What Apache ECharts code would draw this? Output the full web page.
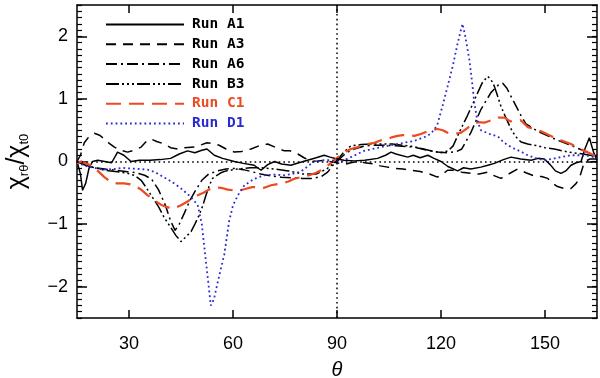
<!DOCTYPE html>
<html>
<head>
<meta charset="UTF-8">
<title>chi ratio vs theta</title>
<script src="https://cdn.jsdelivr.net/npm/echarts@6/dist/echarts.min.js"></script>
<style>
  html, body { margin: 0; background: #fff; }
  #chart { width: 600px; height: 378px; }
</style>
</head>
<body>
<div id="chart"></div>
<script>
// values (theta in degrees, chi_rtheta / chi_t0)
const thetaA1 = [15, 16, 16.6, 17.5, 18.5, 19.5, 21, 23, 25, 26.7, 28.5, 30.6, 33, 36, 39, 42, 44.5, 46.9, 49, 51, 52.5, 54.6, 57, 60.4, 63, 66.1, 68.1, 70, 72, 74, 76.7, 79, 81.5, 84, 86.3, 88, 90, 92, 95, 98, 101.7, 104, 105.6, 107, 110.4, 112, 114, 116.2, 118, 120, 122, 124.8, 126.5, 128.6, 131.5, 133.5, 135.4, 138, 140.2, 143, 146, 148, 149.8, 151.5, 153, 154.6, 156, 157.5, 159, 160.4, 161.5, 162.8, 164, 165];
const chiA1   = [0, -0.2, -0.46, -0.35, -0.1, 0, 0.02, 0, -0.02, 0.15, 0.1, 0, 0.02, 0.02, 0.03, 0.05, 0.12, 0.17, 0.14, 0.18, 0.2, 0.1, 0.05, 0, -0.03, -0.06, -0.14, -0.05, 0, -0.04, -0.06, -0.02, 0.02, 0.06, 0.1, 0.07, 0.04, 0.02, 0.01, 0.02, 0.05, 0.1, 0.15, 0.12, 0.07, 0.1, 0.06, 0.1, 0.05, 0, -0.08, -0.15, -0.1, -0.12, -0.09, -0.06, -0.03, 0.03, 0.07, 0.04, 0.02, 0.05, 0.04, -0.05, -0.15, -0.19, -0.15, -0.06, -0.02, 0, 0.2, 0.38, 0.15, 0.02];

const thetaA3 = [15, 16, 17.1, 18.5, 20, 21.5, 22.9, 24.5, 25.8, 27.5, 29.6, 31.5, 33.5, 35, 36.3, 38, 40.2, 42, 44, 46, 48.8, 51, 52.5, 54.6, 56, 58, 60.4, 62.5, 65.2, 67.5, 70, 72.5, 74.8, 76.5, 78.7, 80.5, 82.5, 84.5, 86.3, 88, 90, 92, 94, 96, 98, 100.8, 102.5, 104.6, 107, 109, 111.4, 114, 116.2, 119, 120.5, 121.9, 123.5, 126, 128.6, 131, 133.5, 135, 137.3, 139.5, 142.1, 144.5, 146.9, 149, 150.8, 152.2, 153.6, 155.5, 157.5, 159, 159.9, 161.4, 163, 165];
const chiA3   = [0, 0.1, 0.3, 0.4, 0.45, 0.42, 0.36, 0.28, 0.23, 0.18, 0.15, 0.18, 0.23, 0.32, 0.36, 0.32, 0.28, 0.22, 0.2, 0.22, 0.23, 0.27, 0.3, 0.28, 0.26, 0.2, 0.15, 0.16, 0.2, 0.25, 0.28, 0.22, 0.17, 0.17, 0.12, 0.06, 0, 0.01, 0.02, 0, -0.02, -0.05, -0.02, 0, -0.02, -0.04, -0.07, -0.09, -0.11, -0.12, -0.14, -0.16, -0.19, -0.25, -0.2, -0.14, -0.14, -0.17, -0.19, -0.2, -0.17, -0.22, -0.27, -0.2, -0.12, -0.18, -0.23, -0.24, -0.27, -0.35, -0.4, -0.43, -0.43, -0.35, -0.27, 0, 0.04, 0.04];

const thetaA6 = [15, 17, 20, 23, 26, 29, 32, 34.5, 36.5, 38.5, 40.5, 42, 43.3, 44.5, 46, 47.5, 49, 51, 53, 55.6, 58, 60.4, 63, 65.2, 68, 71, 74, 77, 80, 83, 85.5, 87.3, 89, 90, 91.5, 93, 95, 98, 101, 104, 107, 110, 113, 116, 119, 122, 124.5, 126, 128.6, 131.5, 134.4, 136.5, 137.8, 139, 140.2, 141.7, 143.1, 144.5, 146, 148, 150.8, 153.6, 156.5, 159, 161.4, 163, 165];
const chiA6   = [0, -0.05, -0.1, -0.12, -0.14, -0.16, -0.18, -0.22, -0.28, -0.45, -0.7, -0.95, -1.1, -1.0, -0.82, -0.63, -0.48, -0.3, -0.2, -0.15, -0.12, -0.11, -0.13, -0.16, -0.2, -0.23, -0.25, -0.26, -0.27, -0.27, -0.24, -0.17, -0.05, 0, 0.08, 0.15, 0.2, 0.25, 0.26, 0.26, 0.25, 0.24, 0.22, 0.18, 0.15, 0.14, 0.16, 0.2, 0.46, 0.83, 1.1, 1.22, 1.25, 1.17, 1.04, 0.88, 0.73, 0.6, 0.55, 0.48, 0.41, 0.34, 0.28, 0.22, 0.17, 0.12, 0.08];

const thetaB3 = [15, 17, 20, 23, 26, 29, 31.5, 33.5, 35, 36.5, 38.5, 40.2, 42, 43.5, 45, 46.5, 47.9, 49, 50.3, 51.3, 52.2, 53.2, 54.1, 56.5, 58, 61.4, 65, 68, 72, 76, 80, 84, 87, 89, 90, 92, 94, 97, 100, 103, 106, 109, 112, 115, 118, 120, 122, 123.5, 124.8, 126, 127.6, 129, 130.6, 132, 133.5, 134.5, 135.4, 136.3, 137.3, 138.7, 140.2, 141.5, 143.1, 145, 147.9, 150, 152.7, 155, 158, 161, 163, 165];
const chiB3   = [0, -0.05, -0.1, -0.14, -0.16, -0.18, -0.22, -0.3, -0.42, -0.55, -0.72, -0.9, -1.05, -1.18, -1.28, -1.2, -1.12, -1.0, -0.85, -0.7, -0.54, -0.38, -0.27, -0.18, -0.15, -0.12, -0.1, -0.1, -0.12, -0.15, -0.2, -0.2, -0.12, -0.03, 0.02, 0.15, 0.25, 0.27, 0.28, 0.28, 0.28, 0.26, 0.24, 0.2, 0.16, 0.14, 0.17, 0.25, 0.41, 0.55, 0.73, 0.9, 1.1, 1.27, 1.36, 1.3, 1.2, 1.05, 0.88, 0.7, 0.52, 0.4, 0.31, 0.28, 0.25, 0.22, 0.2, 0.17, 0.14, 0.12, 0.1, 0.08];

const thetaC1 = [15, 16.2, 17.5, 19, 21, 22.9, 24.8, 26.5, 28.6, 30, 31.5, 33.5, 35.4, 37.3, 39.2, 41, 43, 45, 46.9, 48.5, 49.8, 51.5, 53, 54.6, 56.5, 58.5, 61.4, 63.5, 65.5, 67.1, 69, 71, 73.8, 76, 77.5, 79.6, 82, 84, 85.4, 87, 89.2, 90.5, 92.1, 94, 96, 98, 100.8, 102.7, 104.6, 106, 107.5, 109, 111, 112.3, 114.2, 116, 117.5, 119, 120.5, 121.9, 123.5, 125.8, 128, 130.6, 132.5, 134.5, 136.5, 138.3, 140, 141.5, 143, 145, 147, 149, 150.8, 152.7, 155, 157.5, 160, 162.3, 164, 165];
const chiC1   = [-0.03, 0, -0.03, -0.06, -0.15, -0.25, -0.33, -0.35, -0.35, -0.36, -0.38, -0.45, -0.54, -0.62, -0.69, -0.73, -0.75, -0.7, -0.64, -0.57, -0.54, -0.5, -0.45, -0.41, -0.42, -0.45, -0.47, -0.44, -0.41, -0.41, -0.42, -0.38, -0.35, -0.32, -0.28, -0.25, -0.22, -0.18, -0.14, -0.08, 0.02, 0.08, 0.15, 0.2, 0.23, 0.27, 0.3, 0.34, 0.36, 0.39, 0.41, 0.42, 0.42, 0.41, 0.44, 0.48, 0.5, 0.52, 0.5, 0.46, 0.44, 0.46, 0.55, 0.63, 0.62, 0.66, 0.7, 0.7, 0.64, 0.65, 0.66, 0.55, 0.52, 0.48, 0.43, 0.38, 0.33, 0.28, 0.2, 0.15, 0.1, 0.08];

const thetaD1 = [15, 16.5, 18, 20, 22.4, 25.7, 28, 30, 33, 35.4, 37.5, 40, 42.5, 45, 47.5, 49.8, 51, 52, 53, 53.6, 54.5, 55.5, 57.5, 58.9, 60, 61.4, 63.3, 66, 69, 72, 74.7, 77, 79.6, 81.5, 83.4, 86.3, 88.5, 90, 91.1, 94, 97.8, 102.7, 107.5, 112.3, 116.2, 118, 119, 120.5, 121.9, 123.5, 124.8, 126.2, 127, 128.2, 129, 129.6, 130.5, 131.5, 134, 136.4, 138.2, 140.5, 143, 145, 147.5, 149.8, 152, 154.6, 157.5, 160.4, 162.5, 164, 165];
const chiD1   = [0, -0.05, -0.08, -0.1, -0.13, -0.12, -0.1, -0.11, -0.12, -0.13, -0.17, -0.25, -0.33, -0.43, -0.55, -0.69, -1.0, -1.5, -2.0, -2.3, -2.2, -1.95, -1.48, -0.95, -0.7, -0.54, -0.38, -0.28, -0.22, -0.21, -0.22, -0.2, -0.16, -0.08, 0, 0.02, 0.02, 0, 0, 0.07, 0.17, 0.23, 0.28, 0.33, 0.41, 0.5, 0.6, 0.9, 1.2, 1.55, 1.89, 2.2, 2.0, 1.62, 1.25, 0.94, 0.65, 0.5, 0.44, 0.4, 0.3, 0.22, 0.16, 0.1, 0.05, 0.02, 0.04, 0.07, 0.1, 0.1, 0.09, 0.07, 0.05];

const runNames = ['Run A1', 'Run A3', 'Run A6', 'Run B3', 'Run C1', 'Run D1'];
const xTicks = [30, 60, 90, 120, 150];
const yTicks = [-2, -1, 0, 1, 2];

const RED = '#ec4a22';
const BLUE = '#2a2ad2';

const chart = echarts.init(document.getElementById('chart'));

function pairs(t, v) {
    return t.map((x, i) => [x, v[i]]);
}

function run(name, t, v, color, dash, width) {
    return {
        name: name,
        type: 'line',
        data: pairs(t, v),
        symbol: 'none',
        xAxisIndex: 0,
        yAxisIndex: 0,
        lineStyle: { color: color, type: dash, width: width },
        itemStyle: { color: color }
    };
}

const axisLine = { show: true, onZero: false, lineStyle: { color: '#000', width: 1.5 } };
const font = '"Liberation Sans", Helvetica, Arial, sans-serif';

const series = [
    run('Run A1', thetaA1, chiA1, '#000', 'solid', 1.5),
    run('Run A3', thetaA3, chiA3, '#000', [10, 7], 1.5),
    run('Run A6', thetaA6, chiA6, '#000', [11, 4, 2, 4], 1.5),
    run('Run B3', thetaB3, chiB3, '#000', [13, 3, 2, 3, 2, 3, 2, 3], 1.5),
    run('Run C1', thetaC1, chiC1, RED, [15, 8], 2.2),
    run('Run D1', thetaD1, chiD1, BLUE, [1.8, 3], 1.8)
];
// dotted zero line and theta = 90 line
series[0].markLine = {
    symbol: 'none',
    silent: true,
    label: { show: false },
    lineStyle: { color: '#000', type: [1.6, 3.2], width: 1.5 },
    data: [{ yAxis: 0 }, { xAxis: 90 }]
};

chart.setOption({
    animation: false,
    backgroundColor: '#fff',
    grid: { left: 77, right: 3, top: 5, bottom: 60, outerBoundsMode: 'none' },
    legend: {
        orient: 'vertical',
        left: 105,
        top: 17,
        padding: 0,
        itemWidth: 78,
        itemHeight: 14,
        itemGap: 4.8,
        itemStyle: { opacity: 0 },
        textStyle: { fontFamily: '"DejaVu Sans Mono", monospace', fontSize: 14.5, fontWeight: 'bold', color: '#000', padding: [0, 0, 0, 3] },
        data: runNames.map((n, i) => ({
            name: n,
            textStyle: { color: i === 4 ? RED : (i === 5 ? BLUE : '#000') }
        }))
    },
    xAxis: [
        {
            type: 'value', position: 'bottom', min: 15, max: 165,
            axisLine: axisLine,
            splitLine: { show: false },
            axisTick: { show: true, inside: true, length: 8, customValues: xTicks, lineStyle: { color: '#000', width: 1.5 } },
            axisLabel: { show: true, customValues: xTicks, margin: 17, fontSize: 18, color: '#000', fontFamily: font },
            name: 'θ', nameLocation: 'middle', nameGap: 42,
            nameTextStyle: { fontSize: 20, fontStyle: 'italic', color: '#000', fontFamily: font }
        },
        {
            type: 'value', position: 'top', min: 15, max: 165,
            axisLine: axisLine,
            splitLine: { show: false },
            axisTick: { show: true, inside: true, length: 8, customValues: xTicks, lineStyle: { color: '#000', width: 1.5 } },
            axisLabel: { show: false }
        }
    ],
    yAxis: [
        {
            type: 'value', position: 'left', min: -2.5, max: 2.5,
            axisLine: axisLine,
            splitLine: { show: false },
            axisTick: { show: true, inside: true, length: 10, customValues: yTicks, lineStyle: { color: '#000', width: 1.5 } },
            axisLabel: {
                show: true, customValues: yTicks, margin: 9, fontSize: 18, color: '#000', fontFamily: font,
                formatter: v => String(v).replace('-', '\u2212')
            },
            name: '{c|χ}{s|rθ}{c|/χ}{s|t0}',
            nameLocation: 'middle', nameGap: 46, nameRotate: 90,
            nameTextStyle: {
                color: '#000', fontFamily: font,
                rich: {
                    c: { fontSize: 25, lineHeight: 28, verticalAlign: 'middle', fontFamily: font },
                    s: { fontSize: 13, lineHeight: 13, verticalAlign: 'bottom', fontFamily: font }
                }
            }
        },
        {
            type: 'value', position: 'left', min: -2.5, max: 2.5, interval: 0.1,
            axisLine: { show: false, onZero: false },
            splitLine: { show: false },
            axisTick: { show: true, inside: true, length: 5, lineStyle: { color: '#000', width: 1.2 } },
            axisLabel: { show: false }
        },
        {
            type: 'value', position: 'right', min: -2.5, max: 2.5,
            axisLine: axisLine,
            splitLine: { show: false },
            axisTick: { show: true, inside: true, length: 10, customValues: yTicks, lineStyle: { color: '#000', width: 1.5 } },
            axisLabel: { show: false }
        },
        {
            type: 'value', position: 'right', min: -2.5, max: 2.5, interval: 0.1,
            axisLine: { show: false, onZero: false },
            splitLine: { show: false },
            axisTick: { show: true, inside: true, length: 5, lineStyle: { color: '#000', width: 1.2 } },
            axisLabel: { show: false }
        }
    ],
    series: series
});
</script>
</body>
</html>
